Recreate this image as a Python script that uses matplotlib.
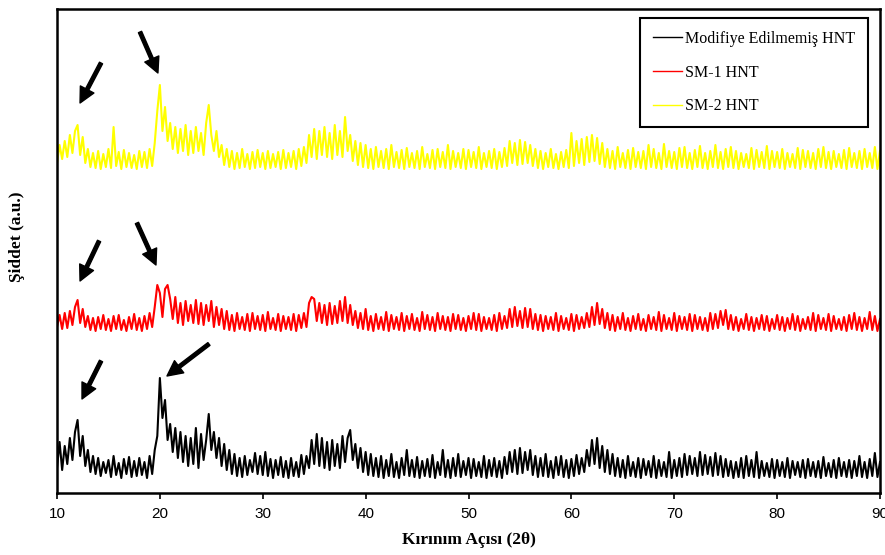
import numpy as np
import matplotlib
matplotlib.use('Agg')
import matplotlib.pyplot as plt

# 2θ ekseni: 10-90 derece, 0.25 derece adim
two_theta = np.arange(10, 90.001, 0.25)

# Modifiye edilmemis HNT (siddet, a.u.)
hnt = np.array('''
12 38 10 34 16 42 20 48 60 24 44 14 30 8 24 6 22 4 18 7
20 3 24 5 17 2 21 6 23 3 19 4 22 5 18 2 24 6 30 44
102 62 80 40 56 28 52 22 48 18 44 14 42 16 52 12 46 20 40 66
30 48 22 42 14 36 10 30 6 26 4 22 3 24 5 20 8 27 6 24
5 28 4 21 2 20 5 23 3 19 2 22 4 18 3 25 6 24 12 40
16 46 14 42 12 38 10 40 14 36 12 44 18 42 50 20 36 12 32 8
28 5 26 4 22 3 24 2 20 4 26 3 18 2 22 5 30 4 20 3
23 2 19 4 21 3 25 2 18 5 30 3 20 2 22 4 26 3 19 5
22 2 21 4 18 3 24 2 20 4 22 3 19 2 23 6 28 8 30 6
32 7 28 10 30 5 24 3 22 4 26 3 19 2 23 5 24 3 20 2
21 4 25 6 22 8 30 14 40 16 42 12 34 8 30 6 26 4 22 3
20 2 24 4 18 3 22 2 21 5 19 3 24 2 20 4 18 3 28 2
20 4 22 3 26 5 24 6 22 4 28 5 25 6 23 4 27 5 24 3
21 4 19 2 18 3 22 2 24 4 20 3 28 2 19 4 17 3 21 2
20 4 18 3 22 2 19 5 18 3 20 2 21 4 18 3 19 2 23 4
17 3 20 2 22 4 18 3 20 2 19 4 24 3 18 2 21 4 27 3
18
'''.split(), dtype=float)

# SM-1 HNT
sm1 = np.array('''
6 18 4 20 5 22 8 26 33 10 24 6 17 3 15 2 16 4 18 3
14 2 17 4 18 3 13 2 16 4 19 3 15 2 17 4 20 6 26 48
40 16 44 48 34 14 36 10 30 8 32 12 28 10 33 9 30 8 28 12
32 6 26 8 24 4 22 3 18 2 20 4 16 3 19 2 20 4 17 3
18 2 21 4 15 3 19 2 17 4 16 3 19 2 18 5 20 6 30 36
34 12 30 10 28 8 30 9 27 10 32 12 36 10 28 8 22 5 20 4
24 3 17 2 19 4 16 3 21 2 18 4 16 3 20 2 17 4 19 3
15 2 21 4 18 3 16 2 20 4 17 3 16 2 19 4 18 3 15 2
17 4 20 3 19 2 16 4 15 3 18 2 20 4 17 5 24 6 26 7
22 5 25 6 24 4 19 3 18 2 17 4 16 3 20 2 17 4 15 3
19 2 18 4 16 5 20 6 26 8 30 9 24 5 20 3 18 2 16 4
20 3 15 2 17 4 19 3 14 2 18 4 16 3 21 2 18 4 15 3
20 2 17 4 16 3 19 2 18 4 16 3 15 2 20 4 19 5 22 8
23 4 18 3 16 2 14 4 19 3 16 2 15 4 18 3 17 2 14 4
18 3 16 2 15 4 19 3 17 2 14 4 16 3 20 2 18 4 15 3
19 2 17 4 14 3 16 2 18 4 20 3 16 2 15 4 21 3 17 2
14
'''.split(), dtype=float)

# SM-2 HNT
sm2 = np.array('''
8 26 12 30 14 36 18 40 46 16 34 8 22 4 18 3 20 2 17 4
22 3 44 5 19 2 21 4 18 3 16 2 20 4 19 3 22 5 28 60
86 40 64 30 48 22 44 18 42 20 46 16 40 18 44 20 38 16 48 66
36 20 40 14 26 6 22 4 20 2 18 3 22 4 17 2 19 3 21 4
18 2 20 3 17 4 19 2 21 3 18 4 20 2 22 5 24 8 36 14
42 12 40 16 44 14 38 12 46 16 40 14 54 20 36 10 30 6 28 4
26 3 22 2 24 4 20 3 22 2 26 4 19 3 21 2 23 4 18 3
20 2 24 4 17 3 21 2 22 4 19 3 26 2 20 4 18 3 22 2
21 4 19 3 24 2 18 4 20 3 22 2 19 4 23 5 30 8 28 6
31 7 29 8 26 5 22 3 20 2 18 4 22 3 17 2 19 4 21 3
38 5 30 8 32 6 34 9 36 10 33 7 28 4 22 3 20 2 24 4
18 3 21 2 23 4 19 3 20 2 26 4 22 3 18 2 27 4 20 3
19 2 23 4 24 3 18 2 21 4 25 3 18 2 20 4 26 3 19 2
22 4 24 3 20 2 18 4 17 3 23 2 21 4 19 3 25 2 20 4
19 3 22 2 18 4 17 3 23 2 21 4 20 3 18 2 22 4 24 3
19 2 20 4 17 3 21 2 23 4 18 3 20 2 22 4 18 3 24 2
20
'''.split(), dtype=float)

labels = ['Modifiye Edilmemiş HNT', 'SM-1 HNT', 'SM-2 HNT']
colors = ['black', 'red', '#ffff00']
offsets = [13, 160, 322]   # egrileri ust uste dizmek icin kaydirma

fig = plt.figure(figsize=(8.85, 5.55), dpi=100)
ax = fig.add_axes([57 / 885, 62 / 555, 823 / 885, 484 / 555])

for y, lab, c, off in zip([hnt, sm1, sm2], labels, colors, offsets):
    ax.plot(two_theta, y + off, color=c, lw=1.5, label=lab)

ax.set_xlim(10, 90)
ax.set_ylim(0, 484)
ax.set_xticks(np.arange(10, 91, 10))
ax.set_yticks([])
ax.tick_params(axis='x', direction='out', length=4, width=1.2, pad=6,
               labelsize=11)
for lbl in ax.get_xticklabels():
    lbl.set_family(['Liberation Sans Narrow', 'Liberation Sans', 'DejaVu Sans'])
for sp in ax.spines.values():
    sp.set_linewidth(1.8)

ax.set_xlabel('Kırınım Açısı (2θ)', family=['Liberation Serif', 'DejaVu Serif'],
              fontsize=12.5, fontweight='bold', labelpad=8)
ax.set_ylabel('Şiddet (a.u.)', family=['Liberation Serif', 'DejaVu Serif'],
              fontsize=12.5, fontweight='bold')
ax.yaxis.set_label_coords(-0.039, 0.53)

# pik oklari (12 ve 20 derece)
arrows = [((12.24, 390), (14.28, 430)), ((19.81, 420), (18.07, 461)),
          ((12.24, 212), (14.09, 252)), ((19.62, 228), (17.77, 270)),
          ((12.43, 94), (14.28, 132)), ((20.69, 117), (24.77, 149))]
for head, tail in arrows:
    ax.annotate('', xy=head, xytext=tail,
                arrowprops=dict(facecolor='black', edgecolor='black',
                                width=2.5, headwidth=11, headlength=11,
                                shrink=0))

leg = ax.legend(loc='upper right', bbox_to_anchor=(0.9854, 0.981),
                borderaxespad=0, fancybox=False, framealpha=1,
                edgecolor='black', handlelength=1.8, handletextpad=0.2,
                labelspacing=1.1, borderpad=0.8,
                prop={'family': ['Liberation Serif', 'DejaVu Serif'],
                      'size': 11.5})
leg.get_frame().set_linewidth(1.5)
for h in leg.get_lines():
    h.set_linewidth(1.0)

plt.savefig('out.png', dpi=100)
